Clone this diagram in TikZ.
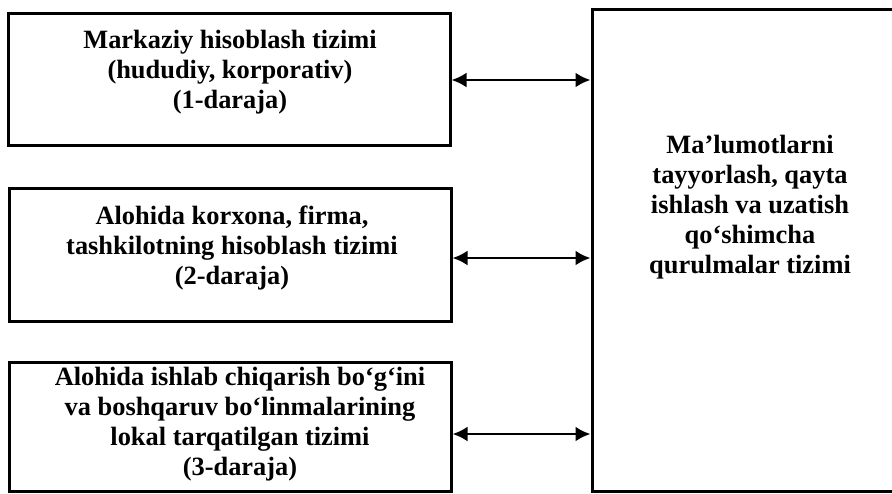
\documentclass[tikz,border=0pt]{standalone}
\usepackage{fontspec}
\setmainfont{Liberation Serif}
\usepackage{tikz}
\usetikzlibrary{arrows.meta, positioning, calc}

\begin{document}
\begin{tikzpicture}[x=1pt, y=1pt,
  levelbox/.style={draw, line width=1.5pt, minimum width=221pt, inner sep=0pt},
  boxtext/.style={align=center, inner sep=0pt, font=\fontsize{13.2}{15}\selectfont\bfseries},
  link/.style={{Latex[length=7.5pt,width=7.5pt]}-{Latex[length=7.5pt,width=7.5pt]}, line width=1.4pt}]
\useasboundingbox (0,0) rectangle (446,-246.5);
% Three levels on the left
\node[levelbox, minimum height=66pt] (lvl1) at (114.5,-39.5) {};
\node[boxtext] (lvl1txt) at (115,-36)
  {Markaziy hisoblash tizimi\\(hududiy, korporativ)\\(1-daraja)};
\node[levelbox, minimum height=66.5pt] (lvl2) at (115,-127.25) {};
\node[boxtext] (lvl2txt) at (116,-124)
  {Alohida korxona, firma,\\tashkilotning hisoblash tizimi\\(2-daraja)};
\node[levelbox, minimum height=64.5pt] (lvl3) at (115,-213.25) {};
\node[boxtext] (lvl3txt) at (120,-212)
  {Alohida ishlab chiqarish bo‘g‘ini\\va boshqaruv bo‘linmalarining\\lokal tarqatilgan tizimi\\(3-daraja)};

% Support system on the right
\node[draw, line width=1.5pt, minimum width=160pt, minimum height=241pt, inner sep=0pt]
  (aux) at (376,-125) {};
\node[boxtext] (auxtxt) at (375,-103.5)
  {Ma’lumotlarni\\tayyorlash, qayta\\ishlash va uzatish\\qo‘shimcha\\qurulmalar tizimi};

\draw[link] ($(lvl1.east)+(0,-0.5)$) -- ($(lvl1.east -| aux.west)+(0,-0.5)$);
\draw[link] ($(lvl2.east)+(0,-1.75)$) -- ($(lvl2.east -| aux.west)+(0,-1.75)$);
\draw[link] ($(lvl3.east)+(0,-3.75)$) -- ($(lvl3.east -| aux.west)+(0,-3.75)$);
\end{tikzpicture}
\end{document}
